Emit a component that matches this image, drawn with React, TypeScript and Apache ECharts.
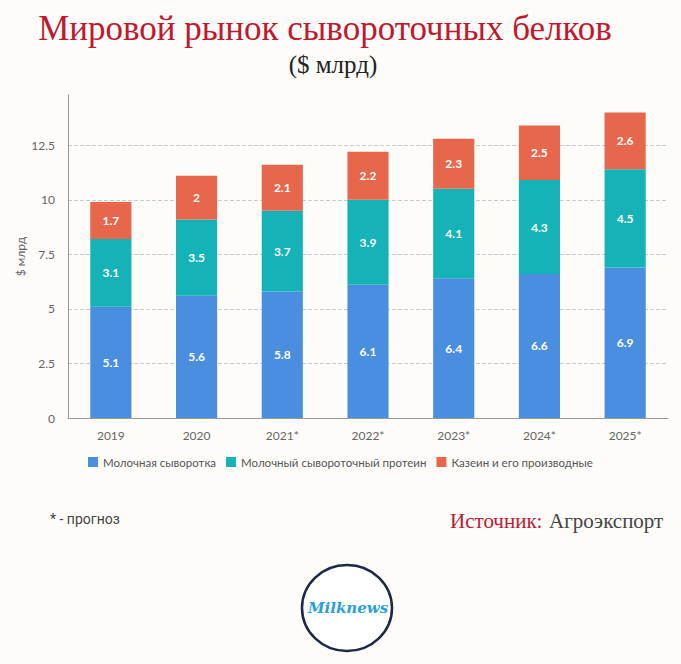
import React, { useEffect, useRef } from "react";
import * as echarts from "echarts";

const categories = ["2019", "2020", "2021*", "2022*", "2023*", "2024*", "2025*"];
const wheyValues = [5.1, 5.6, 5.8, 6.1, 6.4, 6.6, 6.9];
const wpcValues = [3.1, 3.5, 3.7, 3.9, 4.1, 4.3, 4.5];
const caseinValues = [1.7, 2, 2.1, 2.2, 2.3, 2.5, 2.6];
const seriesNames = ["Молочная сыворотка", "Молочный сывороточный протеин", "Казеин и его производные"];
const colors = ["#4a8ee0", "#15b2b8", "#e6674b"];

export default function App() {
  const ref = useRef<HTMLDivElement>(null);
  useEffect(() => {
    document.body.style.margin = "0";
    const chart = echarts.init(ref.current!, null, { renderer: "svg" });
    const sans = "Lato, 'Noto Sans', sans-serif";
    const serif = "'Liberation Serif', 'DejaVu Serif', serif";
    const mk = (name: string, data: number[], color: string) => ({
      name,
      type: "bar",
      stack: "total",
      barWidth: "48%",
      data,
      itemStyle: { color },
      label: {
        show: true,
        position: "inside",
        color: "#ffffff",
        fontFamily: sans,
        fontSize: 12,
        fontWeight: "bold",
      },
    });
    chart.setOption({
      animation: false,
      backgroundColor: "#fdfcf9",
      color: colors,
      grid: { left: 68, right: 13, top: 95, bottom: 246, containLabel: false },
      legend: {
        left: 83,
        top: 451,
        itemWidth: 10,
        itemHeight: 10,
        itemGap: 10,
        icon: "rect",
        textStyle: { color: "#555", fontFamily: sans, fontSize: 11.5 },
        data: seriesNames,
      },
      xAxis: {
        type: "category",
        data: categories,
        axisLine: { lineStyle: { color: "#999" } },
        axisTick: { show: false },
        axisLabel: { color: "#666", fontFamily: sans, fontSize: 12, margin: 11 },
      },
      yAxis: {
        type: "value",
        min: 0,
        max: 14.8,
        interval: 2.5,
        name: "$ млрд",
        nameLocation: "middle",
        nameGap: 42,
        nameMoveOverlap: false,
        nameTextStyle: { color: "#666", fontFamily: sans, fontSize: 12 },
        axisLine: { show: true, lineStyle: { color: "#999" } },
        axisTick: { show: false },
        axisLabel: {
          color: "#666",
          fontFamily: sans,
          fontSize: 12,
          margin: 13,
          showMaxLabel: false,
          formatter: (v: number) => (Math.abs(v / 2.5 - Math.round(v / 2.5)) < 1e-6 ? String(v) : ""),
        },
        splitLine: { showMaxLine: false, lineStyle: { color: "#ccc", type: "dashed" } },
      },
      series: [
        mk(seriesNames[0], wheyValues, colors[0]),
        mk(seriesNames[1], wpcValues, colors[1]),
        mk(seriesNames[2], caseinValues, colors[2]),
      ],
      graphic: [
        {
          type: "text",
          x: 325,
          y: 28,
          style: {
            text: "Мировой рынок сывороточных белков",
            fill: "#c0182f",
            font: `35px ${serif}`,
            align: "center",
            verticalAlign: "middle",
          },
        },
        {
          type: "text",
          x: 333,
          y: 64,
          style: { text: "($ млрд)", fill: "#222", font: `25px ${serif}`, align: "center", verticalAlign: "middle" },
        },
        {
          type: "text",
          x: 50,
          y: 519,
          style: { text: "* - прогноз", fill: "#444", font: `14px Roboto, sans-serif`, verticalAlign: "middle" },
        },
        {
          type: "text",
          x: 450,
          y: 521,
          style: {
            text: "{a|Источник:}  {b|Агроэкспорт}",
            verticalAlign: "middle",
            rich: {
              a: { fill: "#c0182f", font: `21px ${serif}` },
              b: { fill: "#444", font: `21px ${serif}` },
            },
          },
        },
        {
          type: "ellipse",
          shape: { cx: 347, cy: 608, rx: 45, ry: 43 },
          style: { fill: "#ffffff", stroke: "#1d2747", lineWidth: 2.5 },
        },
        {
          type: "text",
          x: 348,
          y: 608,
          style: {
            text: "Milknews",
            fill: "#2a9fd8",
            font: `italic bold 15px 'DejaVu Serif', serif`,
            align: "center",
            verticalAlign: "middle",
          },
        },
      ],
    });
    return () => chart.dispose();
  }, []);
  return <div ref={ref} style={{ width: 681, height: 664 }} />;
}
